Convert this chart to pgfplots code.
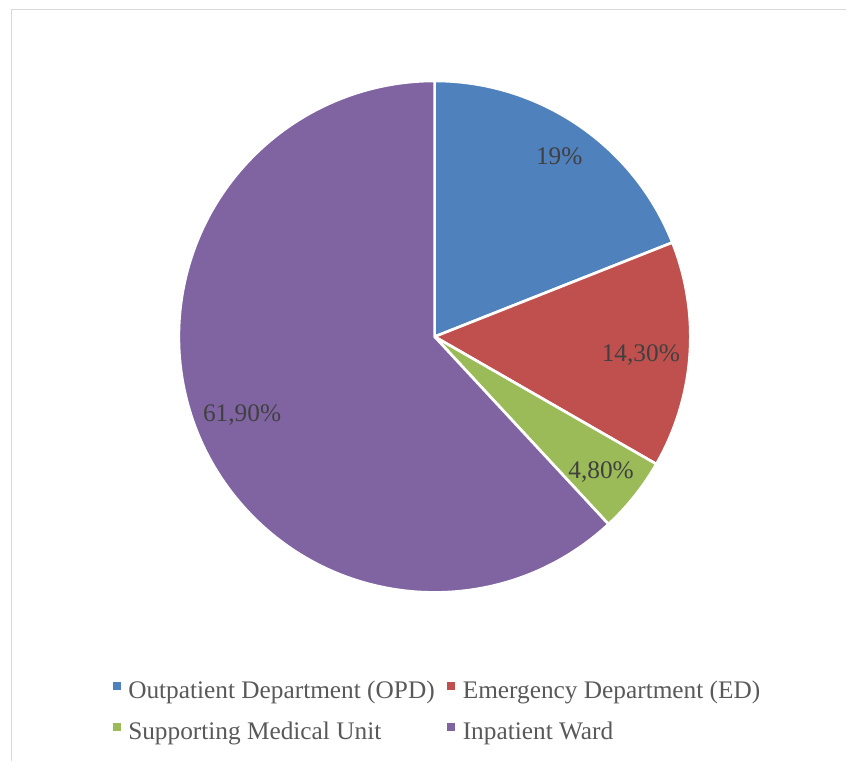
\documentclass[border=0pt]{standalone}
\usepackage{fontspec}
\setmainfont{Liberation Serif}
\usepackage{pgfplots}
\usepackage{pgfplotstable}
\pgfplotsset{compat=1.18}
\definecolor{opd}{HTML}{4F81BD}
\definecolor{ed}{HTML}{C0504D}
\definecolor{smu}{HTML}{9BBB59}
\definecolor{iw}{HTML}{8064A2}
\definecolor{legtxt}{HTML}{595959}
\definecolor{labtxt}{HTML}{404040}
\definecolor{frame}{HTML}{D9D9D9}
\pgfplotstableread{
name value color label dist
OPD 19 opd 19 222
ED 14.3 ed 14,30 207
SMU 4.8 smu 4,80 213
IW 61.9 iw 61,90 207
}\piedata
\begin{document}
\begin{tikzpicture}
\begin{axis}[x=0.75pt,y=0.75pt,xmin=0,xmax=847,ymin=0,ymax=762,
  hide axis, clip=false,
  legend columns=2, legend cell align=left,
  legend style={draw=none, fill=none, at={(0.133,0.109)}, anchor=north west,
    font=\fontsize{19}{22}\selectfont, text=legtxt, inner sep=0pt,
    row sep=12pt,
    cells={inner xsep=0pt},
    /tikz/every odd column/.append style={column sep=4pt},
    /tikz/every even column/.append style={column sep=7.5pt}},
]
\path (axis cs:0,0) rectangle (axis cs:847,762);
\draw[frame, line width=1.2pt] (axis cs:11.5,0) -- (axis cs:11.5,752.5) -- (axis cs:847,752.5);
\def\angleacc{90}
\pgfplotsforeachungrouped \i in {0,...,3}{%
  \pgfplotstablegetelem{\i}{value}\of\piedata \let\sliceval=\pgfplotsretval
  \pgfplotstablegetelem{\i}{color}\of\piedata \let\slicecol=\pgfplotsretval
  \pgfplotstablegetelem{\i}{label}\of\piedata \let\slicelab=\pgfplotsretval
  \pgfplotstablegetelem{\i}{dist}\of\piedata \let\slicedist=\pgfplotsretval
  \pgfmathsetmacro\endang{\angleacc-\sliceval*3.6}%
  \pgfmathsetmacro\midang{(\angleacc+\endang)/2}%
  \pgfmathsetmacro\labr{\slicedist*0.75}%
  \edef\temp{\noexpand\fill[fill=\slicecol, draw=white, line width=2pt, line join=round]
    (axis cs:435,425) -- ++(\angleacc:192pt) arc[start angle=\angleacc, end angle=\endang, radius=192pt] -- cycle;}%
  \temp
  \edef\temp{\noexpand\path (axis cs:435,425) ++(\midang:\labr pt) node[yshift=-2.4pt, text=labtxt, font=\noexpand\fontsize{19}{22}\noexpand\selectfont] {\slicelab\noexpand\%};}%
  \temp
  \let\angleacc=\endang
}
\addlegendimage{legend image code/.code={\fill[opd] (0pt,1.4pt) rectangle (5.2pt,6.6pt);}}
\addlegendimage{legend image code/.code={\fill[ed] (0pt,1.4pt) rectangle (5.2pt,6.6pt);}}
\addlegendimage{legend image code/.code={\fill[smu] (0pt,1.4pt) rectangle (5.2pt,6.6pt);}}
\addlegendimage{legend image code/.code={\fill[iw] (0pt,1.4pt) rectangle (5.2pt,6.6pt);}}
\legend{Outpatient Department (OPD), Emergency Department (ED), Supporting Medical Unit, Inpatient Ward}
\end{axis}
\end{tikzpicture}
\end{document}
